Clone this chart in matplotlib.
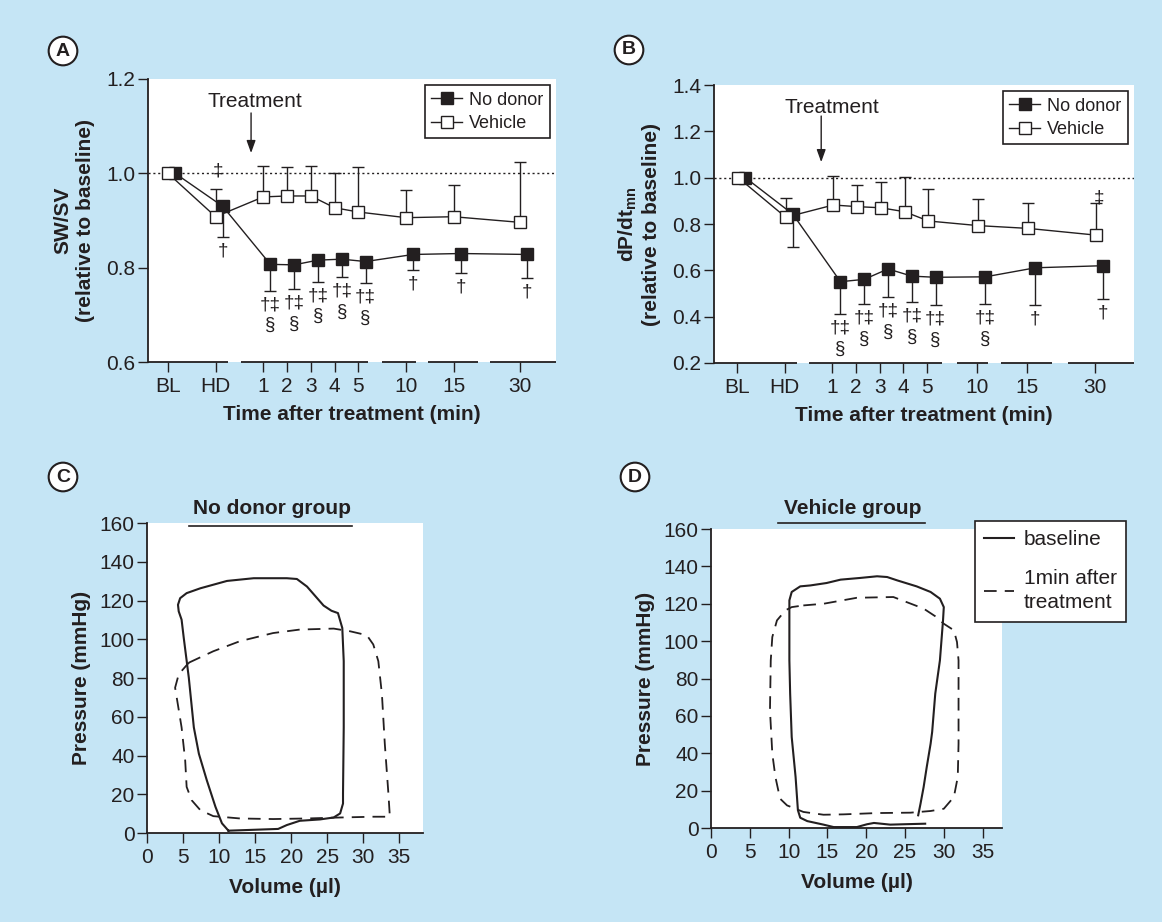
import numpy as np
import matplotlib
matplotlib.use('Agg')
import matplotlib.pyplot as plt
from matplotlib.lines import Line2D

ink = '#231f20'
bg = '#c5e5f5'

plt.rcParams['font.family'] = ['Liberation Sans', 'DejaVu Sans']
plt.rcParams['font.size'] = 15
plt.rcParams['mathtext.fontset'] = 'custom'
plt.rcParams['mathtext.rm'] = 'Liberation Sans'
plt.rcParams['mathtext.bf'] = 'Liberation Sans:bold'
plt.rcParams['text.color'] = ink
plt.rcParams['axes.edgecolor'] = ink
plt.rcParams['axes.labelcolor'] = ink
plt.rcParams['xtick.color'] = ink
plt.rcParams['ytick.color'] = ink

# ---- data: panels A and B (relative to baseline) ----
time_labels = ['BL', 'HD', '1', '2', '3', '4', '5', '10', '15', '30']

sw_no_donor = [1.0, 0.93, 0.807, 0.806, 0.816, 0.818, 0.813, 0.828, 0.830, 0.828]
sw_no_donor_err = [0, 0.064, 0.056, 0.051, 0.046, 0.038, 0.046, 0.033, 0.041, 0.049]
sw_vehicle = [1.0, 0.908, 0.950, 0.952, 0.952, 0.927, 0.918, 0.906, 0.908, 0.896]
sw_vehicle_err = [0, 0.059, 0.066, 0.061, 0.064, 0.073, 0.096, 0.059, 0.067, 0.127]
sw_marks_no_donor = ['', '†', '†‡\n§', '†‡\n§', '†‡\n§', '†‡\n§', '†‡\n§', '†', '†', '†']
sw_marks_vehicle = ['', '‡', '', '', '', '', '', '', '', '']

dp_no_donor = [1.0, 0.842, 0.551, 0.561, 0.606, 0.575, 0.570, 0.572, 0.611, 0.620]
dp_no_donor_err = [0, 0.143, 0.141, 0.106, 0.122, 0.113, 0.120, 0.117, 0.162, 0.142]
dp_vehicle = [1.0, 0.829, 0.882, 0.875, 0.870, 0.853, 0.813, 0.793, 0.781, 0.752]
dp_vehicle_err = [0, 0.082, 0.126, 0.093, 0.110, 0.148, 0.137, 0.114, 0.111, 0.140]
dp_marks_no_donor = ['', '', '†‡\n§', '†‡\n§', '†‡\n§', '†‡\n§', '†‡\n§', '†‡\n§', '†', '†']
dp_marks_vehicle = ['', '', '', '', '', '', '', '', '', '‡']

# ---- data: panels C and D (pressure-volume loops) ----
c_base_vol = [11.3, 18.2, 19.4, 21.2, 24.0, 25.9, 26.8, 27.2, 27.2, 27.3, 27.3, 27.1, 26.5,
              25.6, 24.5, 22.2, 20.8, 19.4, 14.8, 11.1, 7.4, 5.5, 4.6, 4.3, 4.4, 4.8, 5.1,
              5.8, 6.5, 7.2, 8.3, 9.5, 10.4, 11.3]
c_base_p = [1.2, 2.1, 4.1, 6.3, 7.0, 8.0, 10.1, 15.2, 20.3, 54.5, 88.7, 105.8, 113.5,
            114.7, 117.4, 127.2, 131.1, 131.5, 131.5, 130.1, 126.3, 123.8, 121.2, 117.8, 114.4,
            110.1, 100.7, 80.2, 54.5, 40.9, 27.2, 13.5, 5.0, 1.2]
c_after_vol = [5.8, 9.2, 12.9, 17.5, 21.2, 25.9, 28.2, 30.5, 31.4, 32.1, 32.6, 33.0, 33.5,
               33.7, 31.4, 26.8, 22.2, 17.5, 12.9, 9.2, 7.4, 6.2, 5.5, 5.3, 4.8, 4.2, 3.9,
               4.4, 5.8]
c_after_p = [87.9, 93.8, 99.0, 103.2, 105.0, 105.5, 104.1, 102.1, 97.3, 88.7, 71.6, 46.0,
             20.3, 8.4, 8.4, 8.0, 7.5, 7.2, 7.5, 8.7, 11.8, 16.9, 23.8, 37.4, 54.5, 68.2,
             75.0, 81.9, 87.9]

d_base_vol = [27.6, 24.8, 23.1, 21.0, 20.1, 18.8, 15.8, 14.5, 12.4, 11.5, 11.2, 10.9, 10.4,
              10.2, 10.1, 10.1, 10.4, 11.5, 12.8, 14.9, 16.7, 19.2, 21.4, 22.7, 24.0, 26.5,
              28.3, 29.5, 30.0, 29.9, 29.5, 28.9, 28.5, 28.3, 27.8, 27.4, 27.0, 26.7]
d_base_p = [2.3, 2.0, 1.8, 2.7, 2.0, 0.5, 0.5, 1.8, 3.7, 5.5, 9.5, 27.3, 48.7,
            71.9, 89.7, 121.8, 126.3, 129.3, 129.8, 131.1, 132.9, 133.8, 134.7, 134.3, 132.5,
            129.3, 126.3, 122.7, 118.2, 111.1, 89.7, 71.9, 51.4, 45.1, 32.6, 21.9, 13.0, 6.8]
d_after_vol = [11.9, 14.5, 18.8, 23.5, 25.2, 27.4, 28.9, 30.0, 31.3, 31.7, 31.9, 31.9, 31.9,
               31.8, 31.3, 30.0, 28.3, 25.7, 21.4, 17.1, 14.5, 11.9, 9.8, 8.9, 8.3, 7.9, 7.6,
               7.7, 7.9, 8.5, 9.6, 10.4, 11.9]
d_after_p = [119.1, 120.0, 123.2, 123.6, 120.9, 117.4, 113.3, 109.3, 105.8, 99.5, 89.7, 71.9,
             45.1, 27.3, 16.6, 10.3, 9.1, 8.2, 8.0, 7.3, 7.1, 8.6, 12.1, 15.7, 27.3, 39.8,
             63.0, 89.7, 102.2, 111.1, 116.5, 118.2, 119.1]

# ---- layout helpers ----
W, H = 1162, 922


def box(left, top, right, bottom):
    return [left / W, 1 - bottom / H, (right - left) / W, (bottom - top) / H]


xpos_a = [0, 2, 4, 5, 6, 7, 8, 10, 12, 14.8]
xpos_b = [0, 2, 4, 5, 6, 7, 8, 10.1, 12.2, 15.05]
axis_pieces_a = [(-0.84, 2.52), (3.07, 8.40), (8.99, 10.42), (10.92, 13.03), (13.53, 16.3)]
axis_pieces_b = [(-0.97, 2.53), (3.03, 8.63), (9.26, 10.57), (11.12, 13.26), (13.94, 16.7)]

fig = plt.figure(figsize=(W / 100, H / 100), dpi=100, facecolor=bg)


def time_panel(ax, xpos, off_veh, off_nd, veh, veh_err, nd, nd_err, marks_nd, marks_veh,
               mark_lift, pieces, xlim, ylim, yticks, ylabel, text_xy, arrow_x, arrow_y):
    veh, veh_err = np.array(veh), np.array(veh_err)
    nd, nd_err = np.array(nd), np.array(nd_err)
    xv = np.array(xpos) + off_veh
    xn = np.array(xpos) + off_nd

    ax.set_facecolor('white')
    for s in ['top', 'right', 'bottom']:
        ax.spines[s].set_visible(False)
    ax.spines['left'].set_linewidth(1.3)

    ax.axhline(1.0, color=ink, lw=1, ls=(0, (1.5, 2)), zorder=1)

    m = veh_err > 0
    ax.errorbar(xv[m], veh[m], yerr=[np.zeros(m.sum()), veh_err[m]], fmt='none',
                ecolor=ink, elinewidth=1, capsize=4.5, capthick=1, zorder=2)
    m = nd_err > 0
    ax.errorbar(xn[m], nd[m], yerr=[nd_err[m], np.zeros(m.sum())], fmt='none',
                ecolor=ink, elinewidth=1, capsize=4.5, capthick=1, zorder=2)

    lv, = ax.plot(xv, veh, '-s', color=ink, mfc='white', mec=ink, mew=1, ms=9, lw=1,
                  zorder=4, label='Vehicle')
    ln, = ax.plot(xn, nd, '-s', color=ink, mfc=ink, mec=ink, ms=9, lw=1,
                  zorder=3, label='No donor')

    for i, t in enumerate(marks_nd):
        if t:
            ax.annotate(t, (xn[i], nd[i] - nd_err[i]), xytext=(0, -4),
                        textcoords='offset points', ha='center', va='top',
                        fontsize=13.5, linespacing=1.3)
    for i, t in enumerate(marks_veh):
        if t:
            ax.annotate(t, (xv[i] + 0.12, veh[i] + veh_err[i]), xytext=(0, mark_lift),
                        textcoords='offset points', ha='center', va='bottom', fontsize=13.5)

    # broken x axis
    trans = ax.get_xaxis_transform()
    for a, b in pieces:
        ax.plot([a, b], [0, 0], transform=trans, color=ink, lw=1.3, clip_on=False,
                solid_capstyle='butt')

    ax.annotate('', xy=(arrow_x, arrow_y[1]), xytext=(arrow_x, arrow_y[0]),
                arrowprops=dict(arrowstyle='-|>,head_length=0.5,head_width=0.18',
                                color=ink, lw=1, shrinkA=0, shrinkB=0))
    ax.text(text_xy[0], text_xy[1], 'Treatment', ha='center', va='center', fontsize=15)

    ax.set_xlim(*xlim)
    ax.set_ylim(*ylim)
    ax.set_xticks(xpos, time_labels)
    ax.set_yticks(yticks, ['%.1f' % v for v in yticks])
    ax.tick_params(axis='both', length=7, width=1, labelsize=15)
    ax.tick_params(axis='x', pad=4)
    ax.tick_params(axis='y', pad=2)
    ax.set_xlabel('Time after treatment (min)', fontweight='bold', fontsize=15, labelpad=6)
    ax.set_ylabel(ylabel, fontweight='bold', fontsize=15, labelpad=8, linespacing=1.25)

    leg = ax.legend(handles=[ln, lv], loc='upper right', fontsize=13, frameon=True,
                    fancybox=False, edgecolor=ink, framealpha=1, borderaxespad=0.35,
                    handlelength=1.7, handletextpad=0.4, borderpad=0.35, labelspacing=0.35)
    leg.get_frame().set_linewidth(1.2)


ax_a = fig.add_axes(box(148, 79, 556, 362))
time_panel(ax_a, xpos_a, 0.0, 0.3, sw_vehicle, sw_vehicle_err, sw_no_donor, sw_no_donor_err,
           sw_marks_no_donor, sw_marks_vehicle, 7, axis_pieces_a, (-0.84, 16.3), (0.6, 1.2),
           [0.6, 0.8, 1.0, 1.2], 'SW/SV\n(relative to baseline)',
           (3.66, 1.153), 3.49, (1.128, 1.043))

ax_b = fig.add_axes(box(714, 85, 1134, 363))
time_panel(ax_b, xpos_b, 0.05, 0.35, dp_vehicle, dp_vehicle_err, dp_no_donor, dp_no_donor_err,
           dp_marks_no_donor, dp_marks_vehicle, -3, axis_pieces_b, (-0.97, 16.7), (0.2, 1.4),
           [0.2, 0.4, 0.6, 0.8, 1.0, 1.2, 1.4],
           r'dP/dt$_{\mathbf{mn}}$' + '\n(relative to baseline)',
           (4.0, 1.305), 3.54, (1.266, 1.067))


def pv_panel(ax, base_v, base_p, after_v, after_p, xmax):
    ax.set_facecolor('white')
    for s in ['top', 'right']:
        ax.spines[s].set_visible(False)
    for s in ['left', 'bottom']:
        ax.spines[s].set_linewidth(1.3)
    lb, = ax.plot(base_v, base_p, color=ink, lw=1.5, label='baseline')
    la, = ax.plot(after_v, after_p, color=ink, lw=1.3, ls=(0, (7, 4.5)),
                  label='1min after\ntreatment')
    ax.set_xlim(0, xmax)
    ax.set_ylim(0, 160)
    ax.set_xticks(range(0, 36, 5))
    ax.set_yticks(range(0, 161, 20))
    ax.tick_params(axis='both', length=7, width=1, labelsize=15)
    ax.tick_params(axis='y', pad=2)
    ax.set_xlabel('Volume (µl)', fontweight='bold', fontsize=15, labelpad=8)
    ax.set_ylabel('Pressure (mmHg)', fontweight='bold', fontsize=15, labelpad=6)
    return lb, la


ax_c = fig.add_axes(box(147, 523, 423, 833))
pv_panel(ax_c, c_base_vol, c_base_p, c_after_vol, c_after_p, 38.3)

ax_d = fig.add_axes(box(711, 529, 1002, 828))
lb, la = pv_panel(ax_d, d_base_vol, d_base_p, d_after_vol, d_after_p, 37.5)
leg = ax_d.legend(handles=[lb, la], loc='upper left', bbox_to_anchor=(975 / W, 1 - 521 / H),
                  bbox_transform=fig.transFigure, borderaxespad=0, fontsize=15,
                  frameon=True, fancybox=False, edgecolor=ink, framealpha=1,
                  handlelength=1.4, handletextpad=0.5, borderpad=0.45, labelspacing=0.95)
leg.get_frame().set_linewidth(1.2)
leg.get_texts()[1].set_linespacing(1.35)

# group titles with underline
for txt, cx, cy, x0, x1, uy in [('No donor group', 272, 508, 189, 352, 526),
                                ('Vehicle group', 853, 509, 778, 925, 523)]:
    fig.text(cx / W, 1 - cy / H, txt, ha='center', va='center', fontweight='bold', fontsize=15)
    fig.add_artist(Line2D([x0 / W, x1 / W], [1 - uy / H, 1 - uy / H], color=ink, lw=1.2))

# panel letters
for letter, px, py in [('A', 63, 51), ('B', 629, 50), ('C', 63, 477), ('D', 635, 477)]:
    fig.text(px / W, 1 - py / H, letter, ha='center', va='center', fontweight='bold',
             fontsize=14, bbox=dict(boxstyle='circle,pad=0.3', fc='white', ec=ink, lw=1.5))

fig.savefig('out.png', dpi=100, facecolor=bg)
